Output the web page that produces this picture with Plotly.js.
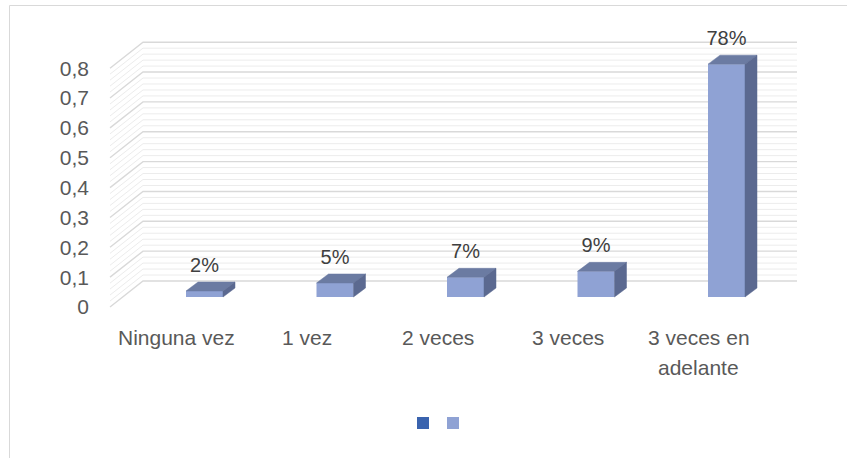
<!DOCTYPE html>
<html><head><meta charset="utf-8">
<script src="https://cdn.plot.ly/plotly-3.0.1.min.js"></script>
<style>html,body{margin:0;padding:0;background:#fff;}#chart{width:847px;height:458px;}</style>
</head><body><div id="chart"></div>
<script>
// ---- data ----
const categories = ['Ninguna vez', '1 vez', '2 veces', '3 veces', '3 veces en adelante'];
const categoryLines = [['Ninguna vez'], ['1 vez'], ['2 veces'], ['3 veces'], ['3 veces en', 'adelante']];
const values = [0.02, 0.047, 0.066, 0.086, 0.78];
const series1Values = [0, 0, 0, 0, 0];
const yTickVals = [0, 0.1, 0.2, 0.3, 0.4, 0.5, 0.6, 0.7, 0.8];
const yTickText = ['0', '0,1', '0,2', '0,3', '0,4', '0,5', '0,6', '0,7', '0,8'];
const minorStep = 0.02;

// ---- geometry (pixel based 3D look) ----
const PL = 100, PR = 810, PT = 30, PB = 320;
const Sx = 130.5, Sy = 298.5, X0 = 204.5, Y0 = 297;
const xRange = [(PL - X0) / Sx, (PR - X0) / Sx];
const yRange = [(Y0 - PB) / Sy, (Y0 - PT) / Sy];
const BW = 37 / Sx, DX = 12 / Sx, DY = 9 / Sy;
const backDY = 16 / Sy, backXL = (143 - X0) / Sx, backXR = (797 - X0) / Sx;
const frontDY = -10 / Sy, frontXL = (110 - X0) / Sx;

const xs = categories.map((c, i) => i);

// grid lines (back wall + side wall) as shapes below the traces
const yMax = yTickVals[yTickVals.length - 1];
const minorLevels = [];
for (let k = 1; k * minorStep < yMax - 1e-9; k++) {
  const v = +(k * minorStep).toFixed(4);
  if (!yTickVals.some(t => Math.abs(t - v) < 1e-9)) minorLevels.push(v);
}
function gridShapes(levels, color, width) {
  return levels.map(v => ({
    type: 'path', xref: 'x', yref: 'y', layer: 'below',
    path: 'M' + frontXL + ',' + (v + frontDY) + ' L' + backXL + ',' + (v + backDY) + ' L' + backXR + ',' + (v + backDY),
    line: {color: color, width: width}
  }));
}

const topX = [], topY = [], sideX = [], sideY = [];
xs.forEach((x, i) => {
  const v = values[i], l = x - BW / 2, r = x + BW / 2;
  topX.push(l, r, r + DX, l + DX, l, null);
  topY.push(v, v, v + DY, v + DY, v, null);
  sideX.push(r, r + DX, r + DX, r, r, null);
  sideY.push(0, DY, v + DY, v, 0, null);
});

const traces = [
  {x: xs, y: series1Values, type: 'bar', width: BW, name: ' ', marker: {color: '#3a63ae', line: {width: 0}},
   showlegend: true, legend: 'legend', hoverinfo: 'skip'},
  {x: xs, y: values, type: 'bar', width: BW, name: ' ', marker: {color: '#8fa2d4', line: {width: 0}},
   showlegend: true, legend: 'legend2', hoverinfo: 'skip'},
  {x: topX, y: topY, type: 'scatter', mode: 'lines', fill: 'toself', fillcolor: '#6b7ba2',
   line: {width: 0.5, color: '#6b7ba2'}, showlegend: false, hoverinfo: 'skip'},
  {x: sideX, y: sideY, type: 'scatter', mode: 'lines', fill: 'toself', fillcolor: '#5b6990',
   line: {width: 0.5, color: '#5b6990'}, showlegend: false, hoverinfo: 'skip'},
  {x: xs, y: values.map(v => v + DY + 15 / Sy), type: 'scatter', mode: 'text',
   text: values.map(v => Math.round(v * 100) + '%'), textposition: 'middle center',
   textfont: {family: 'Liberation Sans', size: 20, color: '#404040'},
   showlegend: false, hoverinfo: 'skip', cliponaxis: false}
];

const annotations = [];
categoryLines.forEach((lines, i) => {
  lines.forEach((t, j) => {
    annotations.push({x: i - 28 / Sx, xref: 'x', y: (PB - (337 + 30 * j)) / (PB - PT), yref: 'paper',
      text: t, showarrow: false, xanchor: 'center', yanchor: 'middle',
      font: {family: 'Liberation Sans', size: 21, color: '#595959'}});
  });
});

function legendAt(px) {
  return {orientation: 'h', x: (px - PL) / (PR - PL), xanchor: 'center', y: (PB - 423) / (PB - PT), yanchor: 'middle',
          entrywidth: 1, entrywidthmode: 'pixels', itemwidth: 30, font: {size: 12}, bgcolor: 'rgba(0,0,0,0)'};
}

const layout = {
  width: 847, height: 458,
  margin: {l: PL, r: 847 - PR, t: PT, b: 458 - PB, pad: 0},
  paper_bgcolor: '#fff', plot_bgcolor: 'rgba(0,0,0,0)',
  font: {family: 'Liberation Sans', size: 20, color: '#595959'},
  barmode: 'overlay',
  xaxis: {range: xRange, showgrid: false, zeroline: false, showticklabels: false, ticks: '', fixedrange: true},
  yaxis: {range: yRange, showgrid: false, zeroline: false, tickvals: yTickVals.map(v => v + frontDY),
          ticktext: yTickText, ticks: '', ticklabelstandoff: 10, fixedrange: true,
          tickfont: {family: 'Liberation Sans', size: 21, color: '#595959'}},
  showlegend: true,
  legend: legendAt(426),
  legend2: legendAt(456),
  annotations: annotations,
  shapes: [{type: 'rect', xref: 'paper', yref: 'paper',
            x0: (9.5 - PL) / (PR - PL), x1: (860 - PL) / (PR - PL),
            y0: (PB - 470) / (PB - PT), y1: (PB - 5.5) / (PB - PT),
            line: {color: '#d9d9d9', width: 1}, layer: 'below'}]
    .concat(gridShapes(minorLevels, '#ececec', 1))
    .concat(gridShapes(yTickVals, '#d9d9d9', 1.4))
};

Plotly.newPlot('chart', traces, layout, {displayModeBar: false, staticPlot: true});
</script>
</body></html>
